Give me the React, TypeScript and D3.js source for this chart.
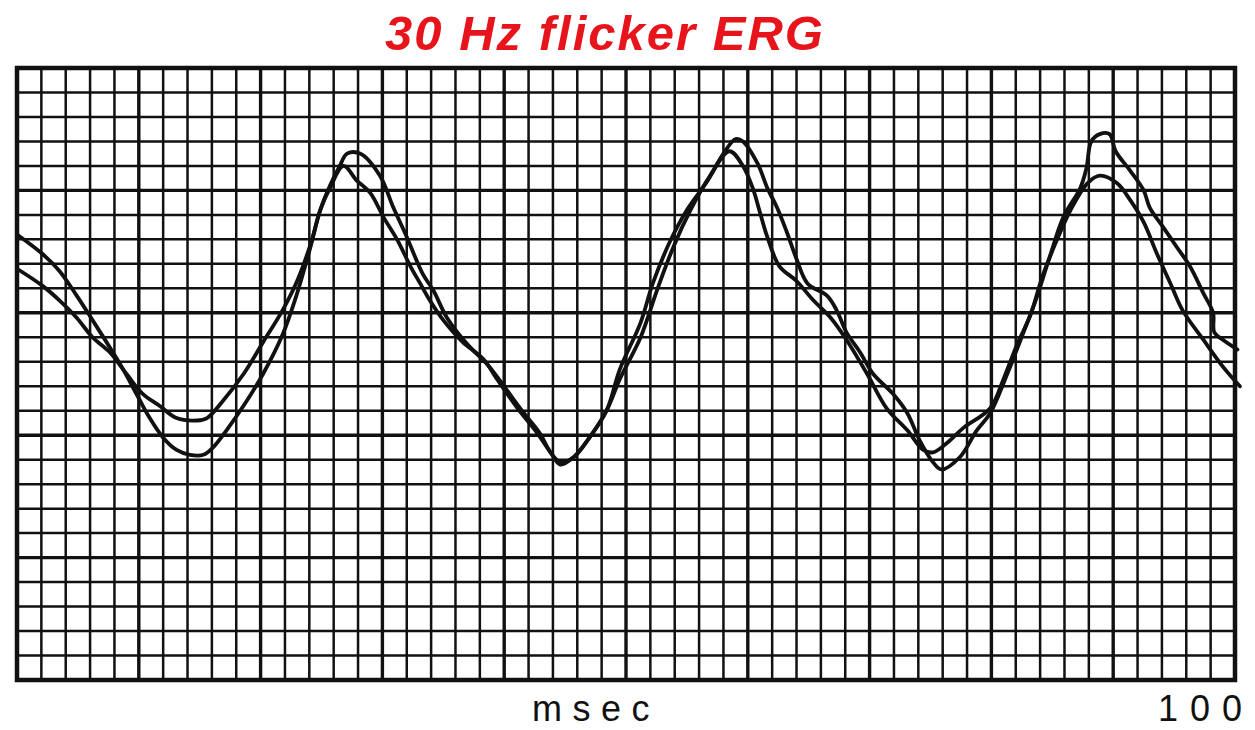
import { useEffect, useRef } from "react";
import * as d3 from "d3";

const W = 1255;
const H = 730;
const FRAME = { left: 17, right: 1235, top: 68, bottom: 680 };

// chart paper: 2 msec per column, 25 rows, heavy line every 5th
const MS_DOMAIN: [number, number] = [0, 100];
const DIV_DOMAIN: [number, number] = [0, 25];
const COL_MS = 2;
const MAJOR_EVERY = 5;
const X_TICK_LABELS = [100];
const TITLE = "30 Hz flicker ERG";
const X_LABEL = "msec";

// [msec, grid divisions above bottom edge]
const traceA: [number, number][] = [
  [0, 18.2], [2.1, 17.4], [3.5, 16.7], [4.9, 15.7], [6.2, 14.7], [7.6, 13.6], [8.7, 12.7],
  [9.9, 11.6], [10.9, 10.7], [12.0, 9.9], [13.1, 9.4], [14.2, 9.2], [15.3, 9.2], [16.1, 9.5],
  [17.2, 10.2], [18.6, 11.2], [20.2, 12.5], [21.8, 14.1], [23.0, 15.8], [24.1, 17.7], [24.9, 19.2],
  [25.7, 20.2], [26.5, 21.0], [27.1, 21.5], [28.2, 21.5], [29.8, 20.6], [30.9, 19.3], [32.0, 18.1],
  [33.3, 16.6], [34.2, 15.9], [35.3, 14.8], [37.0, 13.7], [38.6, 12.9], [39.7, 12.2], [41.3, 11.1],
  [42.9, 10.1], [43.8, 9.3], [44.6, 8.9], [45.7, 9.1], [47.0, 9.9], [48.4, 11.0], [49.5, 12.7],
  [51.2, 14.6], [52.2, 16.2], [53.6, 17.9], [55.0, 19.2], [56.7, 20.4], [58.0, 21.5], [59.0, 22.1],
  [59.6, 22.0], [60.8, 21.1], [61.6, 20.1], [62.4, 19.3], [63.2, 18.3], [64.0, 17.2], [64.9, 16.2],
  [66.5, 15.7], [67.3, 15.1], [68.1, 14.2], [69.2, 13.4], [70.3, 12.5], [71.9, 11.7], [73.1, 10.9],
  [74.1, 9.8], [75.2, 8.9], [75.9, 8.6], [77.4, 9.1], [78.8, 10.2], [79.9, 10.9], [81.3, 12.5],
  [82.4, 13.9], [83.7, 15.6], [84.8, 17.3], [85.9, 18.9], [87.3, 20.1], [87.8, 20.9], [88.2, 22.0],
  [88.9, 22.3], [89.7, 22.3], [90.2, 21.6], [91.4, 20.8], [92.5, 20.0], [93.0, 19.3], [94.1, 18.5],
  [95.2, 17.7], [96.3, 16.9], [97.4, 15.8], [98.2, 15.0], [98.3, 14.2], [99.0, 13.9], [100.2, 13.5],
];

const traceB: [number, number][] = [
  [0, 16.8], [2.1, 16.1], [3.5, 15.5], [4.9, 14.8], [6.2, 14.0], [7.6, 13.4], [9.0, 12.5],
  [10.3, 11.7], [11.7, 11.2], [13.1, 10.7], [14.8, 10.6], [15.6, 10.7], [16.9, 11.4], [18.6, 12.5],
  [20.2, 13.8], [21.8, 15.1], [23.0, 16.3], [24.1, 17.8], [24.9, 19.2], [25.7, 20.1], [26.8, 21.0],
  [27.9, 20.4], [29.0, 19.9], [30.1, 18.9], [31.2, 18.0], [32.3, 16.9], [33.1, 16.2], [33.9, 15.5],
  [35.0, 14.7], [36.6, 13.8], [38.3, 13.1], [39.4, 12.3], [41.1, 11.1], [42.7, 10.1], [43.8, 9.3],
  [44.6, 8.8], [45.7, 9.1], [47.0, 9.9], [48.4, 11.0], [49.5, 12.3], [51.2, 14.0], [52.6, 16.0],
  [53.9, 17.7], [55.3, 19.2], [56.9, 20.6], [58.5, 21.6], [59.6, 21.0], [60.4, 20.1], [61.0, 19.1],
  [61.6, 18.1], [62.6, 16.9], [64.0, 16.3], [65.4, 15.5], [66.8, 14.8], [68.1, 13.9], [69.8, 12.5],
  [71.4, 11.1], [73.1, 10.2], [74.4, 9.4], [75.2, 9.3], [76.4, 9.7], [77.7, 10.3], [79.9, 11.1],
  [81.0, 12.3], [82.1, 13.7], [83.2, 14.9], [84.2, 16.5], [85.4, 18.0], [86.5, 19.2], [87.9, 20.3],
  [88.9, 20.6], [90.3, 20.3], [91.4, 19.6], [92.5, 18.7], [93.6, 17.4], [94.7, 16.2], [95.7, 15.1],
  [97.4, 13.9], [99.0, 12.8], [100.4, 12.0],
];

export default function App() {
  const svgRef = useRef<SVGSVGElement>(null);

  useEffect(() => {
    if (!svgRef.current) return;
    const svg = d3.select(svgRef.current);
    svg.selectAll("*").remove();

    const x = d3.scaleLinear().domain(MS_DOMAIN).range([FRAME.left, FRAME.right]);
    const y = d3.scaleLinear().domain(DIV_DOMAIN).range([FRAME.bottom, FRAME.top]);

    svg.append("rect").attr("width", W).attr("height", H).attr("fill", "#fff");

    const ink = "#111";
    const font = "Liberation Sans, Arial, sans-serif";
    const cols = d3.range(MS_DOMAIN[0], MS_DOMAIN[1] + 0.001, COL_MS);
    const rows = d3.range(DIV_DOMAIN[0], DIV_DOMAIN[1] + 0.001, 1);

    // Grid
    const grid = svg.append("g").attr("stroke", ink);
    grid.selectAll("line.v")
      .data(cols)
      .join("line")
      .attr("class", "v")
      .attr("x1", (d) => x(d)).attr("x2", (d) => x(d))
      .attr("y1", FRAME.top).attr("y2", FRAME.bottom)
      .attr("stroke-width", (d, i) => (i % MAJOR_EVERY === 0 ? 3.4 : 2.5));
    grid.selectAll("line.h")
      .data(rows)
      .join("line")
      .attr("class", "h")
      .attr("y1", (d) => y(d)).attr("y2", (d) => y(d))
      .attr("x1", FRAME.left).attr("x2", FRAME.right)
      .attr("stroke-width", (d, i) => (i % MAJOR_EVERY === 0 ? 3.4 : 2.5));

    svg.append("rect")
      .attr("x", FRAME.left).attr("y", FRAME.top)
      .attr("width", FRAME.right - FRAME.left).attr("height", FRAME.bottom - FRAME.top)
      .attr("fill", "none").attr("stroke", ink).attr("stroke-width", 4.5);

    // Traces
    const line = d3.line<[number, number]>()
      .x((d) => x(d[0]))
      .y((d) => y(d[1]))
      .curve(d3.curveCatmullRom.alpha(0.5));

    [traceA, traceB].forEach((t) => {
      svg.append("path")
        .datum(t)
        .attr("fill", "none")
        .attr("stroke", ink)
        .attr("stroke-width", 3.8)
        .attr("stroke-linejoin", "round")
        .attr("stroke-linecap", "round")
        .attr("d", line);
    });

    // Title and labels
    svg.append("text")
      .attr("x", 605).attr("y", 50)
      .attr("text-anchor", "middle")
      .attr("fill", "#e8141b")
      .attr("font-family", font)
      .attr("font-weight", "bold").attr("font-style", "italic")
      .attr("font-size", 49)
      .attr("letter-spacing", 2)
      .text(TITLE);

    svg.append("text")
      .attr("x", 532).attr("y", 721)
      .attr("fill", ink)
      .attr("font-family", font)
      .attr("font-size", 36)
      .attr("letter-spacing", 10.5)
      .text(X_LABEL);

    svg.selectAll("text.tick")
      .data(X_TICK_LABELS)
      .join("text")
      .attr("class", "tick")
      .attr("x", (d) => x(d) - 77).attr("y", 721)
      .attr("fill", ink)
      .attr("font-family", font)
      .attr("font-size", 36)
      .attr("letter-spacing", 12)
      .text((d) => String(d));
  }, []);

  return (
    <svg
      ref={svgRef}
      width={W}
      height={H}
      style={{ position: "absolute", left: 0, top: 0, background: "#fff" }}
    />
  );
}
